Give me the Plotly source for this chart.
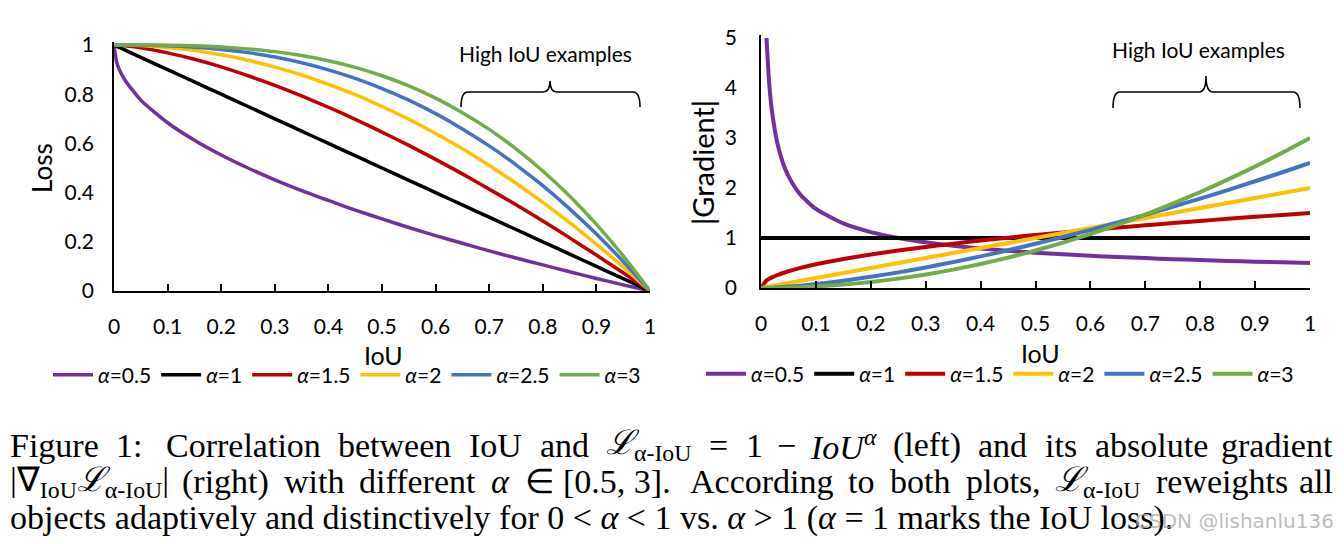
import plotly.graph_objects as go

# page body adds an 8px margin; the figure is sized to fit inside the 1344x544 window
OFF = 8
W, H = 1344 - OFF, 544 - OFF

# ---------------- data ----------------
alphas = ["0.5", "1", "1.5", "2", "2.5", "3"]
colors = ["#7030A0", "#000000", "#C00000", "#FFC000", "#4472C4", "#70AD47"]

iou_left = [0, 0.005, 0.01, 0.02, 0.05, 0.1, 0.15, 0.2, 0.25, 0.3, 0.35, 0.4, 0.45,
            0.5, 0.55, 0.6, 0.65, 0.7, 0.75, 0.8, 0.85, 0.9, 0.95, 1.0]
loss_a05 = [1, 0.929, 0.90, 0.859, 0.776, 0.684, 0.613, 0.553, 0.50, 0.452, 0.408, 0.368,
            0.329, 0.293, 0.258, 0.225, 0.194, 0.163, 0.134, 0.106, 0.078, 0.051, 0.025, 0]
loss_a1 = [1, 0.995, 0.99, 0.98, 0.95, 0.90, 0.85, 0.80, 0.75, 0.70, 0.65, 0.60, 0.55,
           0.50, 0.45, 0.40, 0.35, 0.30, 0.25, 0.20, 0.15, 0.10, 0.05, 0]
loss_a15 = [1, 1.0, 0.999, 0.997, 0.989, 0.968, 0.942, 0.911, 0.875, 0.836, 0.793, 0.747,
            0.698, 0.646, 0.592, 0.535, 0.476, 0.414, 0.351, 0.285, 0.216, 0.146, 0.074, 0]
loss_a2 = [1, 1.0, 1.0, 1.0, 0.998, 0.99, 0.978, 0.96, 0.938, 0.91, 0.878, 0.84,
           0.798, 0.75, 0.698, 0.64, 0.578, 0.51, 0.438, 0.36, 0.278, 0.19, 0.098, 0]
loss_a25 = [1, 1.0, 1.0, 1.0, 0.999, 0.997, 0.991, 0.982, 0.969, 0.951, 0.928, 0.899,
            0.864, 0.823, 0.776, 0.721, 0.659, 0.590, 0.513, 0.428, 0.334, 0.232, 0.120, 0]
loss_a3 = [1, 1.0, 1.0, 1.0, 1.0, 0.999, 0.997, 0.992, 0.984, 0.973, 0.957, 0.936,
           0.909, 0.875, 0.834, 0.784, 0.725, 0.657, 0.578, 0.488, 0.386, 0.271, 0.143, 0]

iou_right = [0, 0.01, 0.015, 0.02, 0.03, 0.04, 0.05, 0.07, 0.1, 0.15, 0.2, 0.25, 0.3, 0.35,
             0.4, 0.45, 0.5, 0.55, 0.6, 0.65, 0.7, 0.75, 0.8, 0.85, 0.9, 0.95, 1.0]
grad_a05 = [None, 5.0, 4.082, 3.536, 2.887, 2.5, 2.236, 1.890, 1.581, 1.291, 1.118, 1.0, 0.913,
            0.845, 0.791, 0.745, 0.707, 0.674, 0.645, 0.620, 0.598, 0.577, 0.559, 0.542,
            0.527, 0.513, 0.5]
grad_a1 = [1] * 27
grad_a15 = [0, 0.15, 0.184, 0.212, 0.260, 0.3, 0.335, 0.397, 0.474, 0.581, 0.671, 0.75, 0.822,
            0.887, 0.949, 1.006, 1.061, 1.112, 1.162, 1.209, 1.255, 1.299, 1.342, 1.383,
            1.423, 1.462, 1.5]
grad_a2 = [0, 0.02, 0.03, 0.04, 0.06, 0.08, 0.1, 0.14, 0.2, 0.3, 0.4, 0.5, 0.6, 0.7, 0.8,
           0.9, 1.0, 1.1, 1.2, 1.3, 1.4, 1.5, 1.6, 1.7, 1.8, 1.9, 2.0]
grad_a25 = [0, 0.0025, 0.0046, 0.0071, 0.013, 0.02, 0.028, 0.046, 0.079, 0.145, 0.224, 0.3125,
            0.411, 0.518, 0.632, 0.755, 0.884, 1.020, 1.162, 1.310, 1.464, 1.624, 1.789,
            1.959, 2.135, 2.315, 2.5]
grad_a3 = [0, 0.0003, 0.0007, 0.0012, 0.0027, 0.0048, 0.0075, 0.0147, 0.03, 0.0675, 0.12,
           0.1875, 0.27, 0.3675, 0.48, 0.6075, 0.75, 0.9075, 1.08, 1.2675, 1.47, 1.6875,
           1.92, 2.1675, 2.43, 2.7075, 3.0]

loss_series = [loss_a05, loss_a1, loss_a15, loss_a2, loss_a25, loss_a3]
grad_series = [grad_a05, grad_a1, grad_a15, grad_a2, grad_a25, grad_a3]

x_ticks = [0, 0.1, 0.2, 0.3, 0.4, 0.5, 0.6, 0.7, 0.8, 0.9, 1]
x_ticklabels = ["0", "0.1", "0.2", "0.3", "0.4", "0.5", "0.6", "0.7", "0.8", "0.9", "1"]
loss_ticks = [0, 0.2, 0.4, 0.6, 0.8, 1]
loss_ticklabels = ["0", "0.2", "0.4", "0.6", "0.8", "1"]
grad_ticks = [0, 1, 2, 3, 4, 5]
grad_ticklabels = ["0", "1", "2", "3", "4", "5"]


# ---------------- layout helpers (screen pixels -> paper) ----------------
def px(x):
    return (x - OFF) / W


def py(y):
    return (H - (y - OFF)) / H


FONT = "Lato"
fig = go.Figure()

for i, a in enumerate(alphas):
    fig.add_trace(go.Scatter(
        x=iou_left, y=loss_series[i], mode="lines",
        line=dict(color=colors[i], width=3.5, shape="spline", smoothing=0.6),
        name="<i>α</i>=" + a, xaxis="x", yaxis="y", legend="legend"))
for i, a in enumerate(alphas):
    fig.add_trace(go.Scatter(
        x=iou_right, y=grad_series[i], mode="lines",
        line=dict(color=colors[i], width=4, shape="spline", smoothing=0.6),
        name="<i>α</i>=" + a, xaxis="x2", yaxis="y2", legend="legend2", connectgaps=False))

axis_common = dict(showgrid=False, zeroline=False, showline=True, linecolor="black", linewidth=1.8,
                   automargin=False, tickfont=dict(family=FONT, size=21, color="black"))

# left plot: x 114..650, y 291(0)..45(1)
lx0, lx1 = px(114), px(650)
ly0 = py(291)
ly1 = py(45 - 246 * 0.012)
# right plot: x 761..1310, y 288(0)..38(5)
rx0, rx1 = px(761), px(1310)
ry0 = py(288)
ry1 = py(38 - 50 * 0.06)

legend_common = dict(orientation="h", yanchor="middle", bgcolor="rgba(0,0,0,0)",
                     font=dict(family=FONT, size=21, color="black"), itemwidth=40, tracegroupgap=0)

fig.update_layout(
    width=W, height=H, margin=dict(l=0, r=0, t=0, b=0, autoexpand=False),
    plot_bgcolor="white", paper_bgcolor="white",
    font=dict(family=FONT, color="black"),
    xaxis=dict(domain=[lx0, lx1], range=[0, 1], tickvals=x_ticks, ticktext=x_ticklabels,
               ticks="inside", ticklen=7, tickwidth=1.8, tickcolor="black", ticklabelstandoff=16,
               anchor="y", **axis_common),
    yaxis=dict(domain=[ly0, ly1], range=[0, 1.012], tickvals=loss_ticks, ticktext=loss_ticklabels,
               ticks="", ticklabelstandoff=14, anchor="x", **axis_common),
    xaxis2=dict(domain=[rx0, rx1], range=[0, 1], tickvals=x_ticks, ticktext=x_ticklabels,
                ticks="inside", ticklen=7, tickwidth=1.8, tickcolor="black", ticklabelstandoff=16,
                anchor="y2", **axis_common),
    yaxis2=dict(domain=[ry0, ry1], range=[0, 5.06], tickvals=grad_ticks, ticktext=grad_ticklabels,
                ticks="", ticklabelstandoff=18, anchor="x2", **axis_common),
    legend=dict(x=px(347), xanchor="center", y=py(375), **legend_common),
    legend2=dict(x=px(1000), xanchor="center", y=py(374), **legend_common),
)

annotations = [
    dict(x=px(383), y=py(355), text="IoU", font=dict(size=25)),
    dict(x=px(1040), y=py(353), text="IoU", font=dict(size=25)),
    dict(x=px(42), y=py(168), text="Loss", textangle=-90, font=dict(size=26)),
    dict(x=px(702), y=py(163), text="|Gradient|", textangle=-90, font=dict(size=29)),
    dict(x=px(545), y=py(53), text="High IoU examples", font=dict(size=21)),
    dict(x=px(1198), y=py(49), text="High IoU examples", font=dict(size=21)),
]
for a in annotations:
    a.update(xref="paper", yref="paper", showarrow=False, xanchor="center", yanchor="middle")
    a["font"].update(family=FONT, color="black")
    fig.add_annotation(**a)


def brace(xl, xr, xm, ytop, ybot, ypeak, r=7):
    def P(x, y):
        return f"{px(x)},{py(y)}"
    return (f"M {P(xl, ybot)} Q {P(xl, ytop)} {P(xl + r, ytop)} L {P(xm - r, ytop)} "
            f"Q {P(xm, ytop)} {P(xm, ypeak)} Q {P(xm, ytop)} {P(xm + r, ytop)} "
            f"L {P(xr - r, ytop)} Q {P(xr, ytop)} {P(xr, ybot)}")


fig.add_shape(type="path", xref="paper", yref="paper", path=brace(461, 640, 550, 92, 107, 81),
              line=dict(color="black", width=1.6))
fig.add_shape(type="path", xref="paper", yref="paper", path=brace(1113, 1300, 1206, 92, 108, 76),
              line=dict(color="black", width=1.6))

# ---------------- caption: justified lines laid out word by word ----------------
CAP = "Liberation Serif"
CAP_SIZE = 34
TIMES = {"a": .444, "b": .5, "c": .444, "d": .5, "e": .444, "f": .333, "g": .5, "h": .5, "i": .278,
         "j": .278, "k": .5, "l": .278, "m": .778, "n": .5, "o": .5, "p": .5, "q": .5, "r": .333,
         "s": .389, "t": .278, "u": .5, "v": .5, "w": .722, "x": .5, "y": .5, "z": .444,
         "A": .722, "C": .667, "F": .556, "I": .333, "U": .722, ":": .278, "(": .333, ")": .333,
         ".": .25, ",": .25, "[": .333, "]": .333, "=": .564, "−": .564, "∈": .67}


def em(s):
    return sum(TIMES.get(c, .5) for c in s)


L = "<i>ℒ</i><sub>α-IoU</sub>"
# (html, plain-text for width or explicit em width, weight of the gap that follows)
line1 = [("Figure", "Figure", 1), ("1:", "1:", 1.3), ("Correlation", "Correlation", 1),
         ("between", "between", 1), ("IoU", "IoU", 1), ("and", "and", 1), (L, 2.5, 1),
         ("=", "=", 1), ("1", "1", 0.8), ("−", "−", 0.8), ("<i>IoU</i><sup><i>α</i></sup>", 1.9, 1),
         ("(left)", "(left)", 1), ("and", "and", 1), ("its", "its", 1), ("absolute", "absolute", 1),
         ("gradient", "gradient", 0)]
line2 = [("|∇<sub>IoU</sub>" + L + "|", 4.6, 1), ("(right)", "(right)", 1), ("with", "with", 1),
         ("different", "different", 1), ("<i>α</i>", 0.55, 1), ("∈", "∈", 1),
         ("[0.5, 3].", 2.92, 1.8), ("According", "According", 1), ("to", "to", 1),
         ("both", "both", 1), ("plots,", "plots,", 1), (L, 2.5, 1), ("reweights", "reweights", 1),
         ("all", "all", 0)]

X_START, X_END = 8, 1335
for y0, tokens in [(445, line1), (482, line2)]:
    widths = [(em(t) if isinstance(t, str) else t) * CAP_SIZE for _, t, _ in tokens]
    gap = (X_END - X_START - sum(widths)) / sum(w for _, _, w in tokens)
    x = X_START
    for (html, _, wgt), wd in zip(tokens, widths):
        last = wgt == 0
        fig.add_annotation(x=px(X_END if last else x), y=py(y0), xref="paper", yref="paper",
                           text=html, showarrow=False, xanchor="right" if last else "left",
                           yanchor="middle", align="left",
                           font=dict(family=CAP, size=CAP_SIZE, color="black"))
        x += wd + gap * wgt

fig.add_annotation(x=px(8), y=py(518), xref="paper", yref="paper",
                   text="objects adaptively and distinctively for 0 &lt; <i>α</i> &lt; 1 vs. <i>α</i> &gt; 1 (<i>α</i> = 1 marks the IoU loss).",
                   showarrow=False, xanchor="left", yanchor="middle", align="left",
                   font=dict(family=CAP, size=CAP_SIZE, color="black"))

fig.add_annotation(x=px(1336), y=py(521), xref="paper", yref="paper", text="CSDN @lishanlu136",
                   showarrow=False, xanchor="right", yanchor="middle",
                   font=dict(family="DejaVu Sans", size=20, color="rgba(170,170,170,0.8)"))

fig.write_html("out.html")
